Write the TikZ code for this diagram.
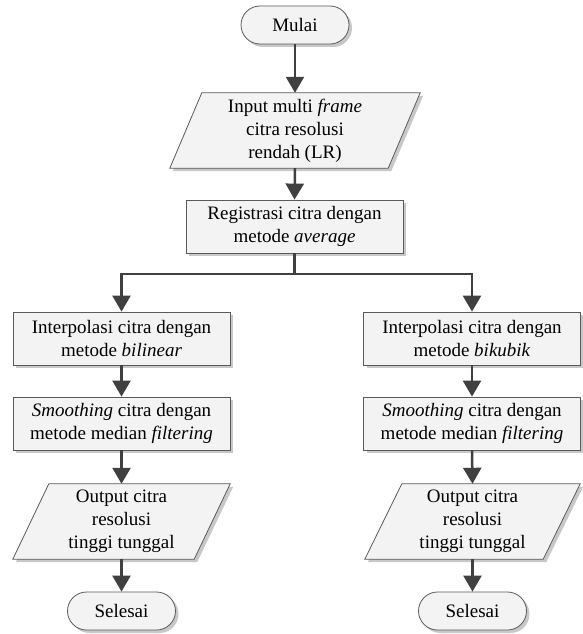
\documentclass[tikz,border=0pt]{standalone}
\usepackage{fontspec}
\setmainfont{Liberation Serif}
\usetikzlibrary{arrows.meta,shadows,backgrounds}
\definecolor{boxfill}{RGB}{243,243,243}
\definecolor{boxline}{RGB}{90,90,90}
\definecolor{arrowgray}{RGB}{64,64,64}
\definecolor{shadowgray}{RGB}{200,200,200}
\tikzset{
  base/.style={font=\fontsize{19}{23}\selectfont, align=center, inner sep=0pt},
  shade/.style={drop shadow={shadow xshift=3pt, shadow yshift=-3pt, fill=shadowgray, opacity=1}},
  procbox/.style={base, draw=boxline, fill=boxfill, line width=0.8pt, shade, minimum width=217pt, minimum height=53pt},
  termbox/.style={base, draw=boxline, fill=boxfill, line width=0.8pt, shade, rounded corners=19pt, minimum width=108pt, minimum height=38pt},
  iotext/.style={base},
  ioshape/.style={draw=boxline, fill=boxfill, line width=0.8pt, shade},
  line/.style={draw=arrowgray, line width=2.5pt},
  conn/.style={line, -{Triangle[width=18pt,length=16pt]}},
}
\begin{document}
\begin{tikzpicture}[x=1pt,y=-1pt]
\useasboundingbox (0,0) rectangle (583,634);
% nodes
\node[termbox] (mulai) at (295,25) {Mulai};
\node[iotext, minimum width=250pt, minimum height=75pt] (input) at (295,130.5) {Input multi \textit{frame}\\citra resolusi\\rendah (LR)};
\node[procbox] (reg) at (294.5,226.5) {Registrasi citra dengan\\metode \textit{average}};
\coordinate (split) at (294.5,274);
\node[procbox] (li) at (121.5,338.5) {Interpolasi citra dengan\\metode \textit{bilinear}};
\node[procbox] (ri) at (472,338.5) {Interpolasi citra dengan\\metode \textit{bikubik}};
\node[procbox] (ls) at (121.5,423.5) {\textit{Smoothing} citra dengan\\metode median \textit{filtering}};
\node[procbox] (rs) at (472,423.5) {\textit{Smoothing} citra dengan\\metode median \textit{filtering}};
\node[iotext, minimum width=217pt, minimum height=75pt] (lo) at (121.5,521.5) {Output citra\\resolusi\\tinggi tunggal};
\node[iotext, minimum width=215pt, minimum height=75pt] (ro) at (472.5,521.5) {Output citra\\resolusi\\tinggi tunggal};
\node[termbox] (lend) at (121.5,611) {Selesai};
\node[termbox] (rend) at (472.5,611) {Selesai};
% parallelogram outlines behind the texts
\begin{scope}[on background layer]
\path[ioshape] ([xshift=32pt]input.north west) -- (input.north east) -- ([xshift=-32pt]input.south east) -- (input.south west) -- cycle;
\path[ioshape] ([xshift=36pt]lo.north west) -- (lo.north east) -- ([xshift=-36pt]lo.south east) -- (lo.south west) -- cycle;
\path[ioshape] ([xshift=37pt]ro.north west) -- (ro.north east) -- ([xshift=-37pt]ro.south east) -- (ro.south west) -- cycle;
\end{scope}
% connectors
\draw[conn] (mulai.south) -- (input.north);
\draw[conn] (input.south) -- (reg.north);
\draw[line] (reg.south) -- (split);
\draw[conn] (split) -| (li.north);
\draw[conn] (split) -| (ri.north);
\draw[conn] (li.south) -- (ls.north);
\draw[conn] (ri.south) -- (rs.north);
\draw[conn] (ls.south) -- (lo.north);
\draw[conn] (rs.south) -- (ro.north);
\draw[conn] (lo.south) -- (lend.north);
\draw[conn] (ro.south) -- (rend.north);
\end{tikzpicture}
\end{document}
